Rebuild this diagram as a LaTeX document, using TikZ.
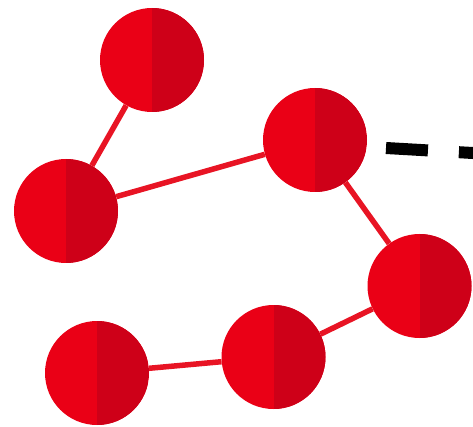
\documentclass[tikz,border=0pt]{standalone}
\definecolor{redlight}{RGB}{234,0,22}
\definecolor{reddark}{RGB}{206,0,24}
\definecolor{redline}{RGB}{232,20,36}
\tikzset{
  ball/.style={circle, minimum size=104pt, inner sep=0pt, fill=redlight,
    path picture={\fill[reddark] (path picture bounding box.north) rectangle (path picture bounding box.south east);}},
  link/.style={draw=redline, line width=5.5pt},
  dashline/.style={draw=black, line width=12pt, dash pattern=on 42pt off 31pt}
}
\begin{document}
\begin{tikzpicture}[x=1pt,y=-1pt]
\useasboundingbox (0,0) rectangle (473,427);
\coordinate (d1) at (386,148);
\coordinate (d2) at (490,154);
\draw[dashline] (d1) -- (d2);
\node[ball] (A) at (152,60) {};
\node[ball] (B) at (66,211) {};
\node[ball] (C) at (315,140) {};
\node[ball] (D) at (419.5,286) {};
\node[ball] (E) at (273.5,357) {};
\node[ball] (F) at (97,373) {};
\draw[link] (A) -- (B);
\draw[link] (B) -- (C);
\draw[link] (C) -- (D);
\draw[link] (D) -- (E);
\draw[link] (E) -- (F);
\end{tikzpicture}
\end{document}
